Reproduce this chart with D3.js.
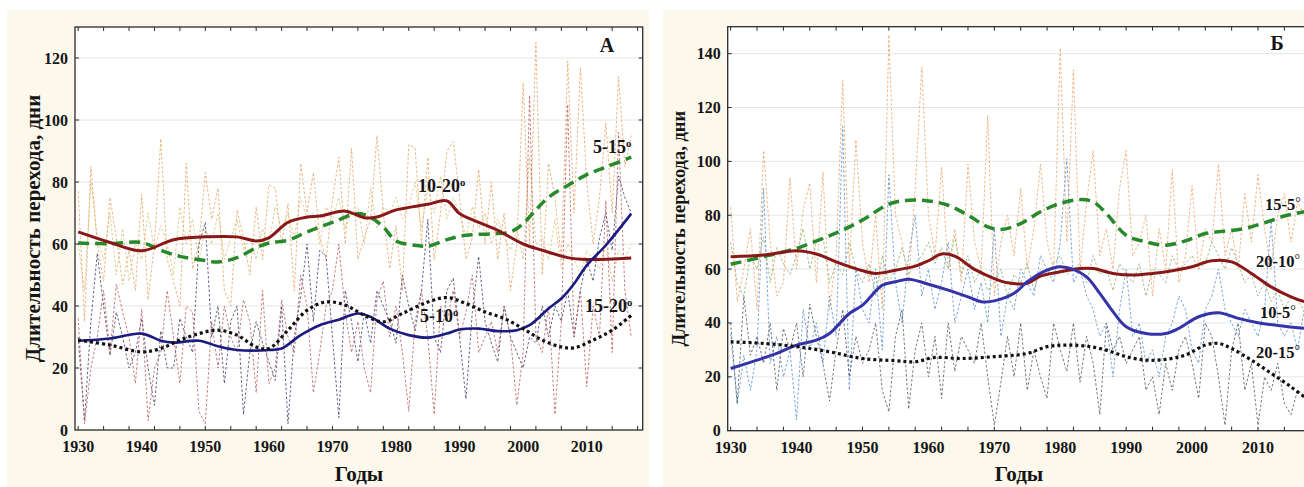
<!DOCTYPE html>
<html>
<head>
<meta charset="utf-8">
<script src="https://cdn.jsdelivr.net/npm/d3@7"></script>
<style>
  body { margin: 0; background: #fff; }
  svg { display: block; }
  text { font-family: "Liberation Serif", "Times New Roman", serif; font-weight: bold; fill: #151515; }
</style>
</head>
<body>
<div id="chart"></div>
<script>
// years of observation, one value per year
var years = d3.range(1930, 2018);

// ---- panel A, yearly values (days) ----
var rawA_5_15 = [77,35,85,60,48,75,62,47,58,45, 76,42,60,94,55,48,40,86,52,60,
  83,68,78,45,40,71,62,50,72,55, 79,78,60,73,45,86,70,83,62,55,
  74,88,60,91,55,62,68,95,70,52, 66,45,92,91,60,88,55,70,90,93,
  75,55,62,84,60,80,55,70,45,60, 112,60,125,50,86,75,55,119,70,117,
  80,60,75,99,70,114,85,95];
var rawA_10_20 = [60,45,80,62,55,70,50,65,48,60, 55,70,58,66,60,50,72,60,68,55,
  65,60,70,55,62,68,58,62,55,65, 60,72,65,70,62,75,68,70,60,72,
  68,75,65,70,72,60,78,65,72,70, 75,68,72,80,65,78,70,82,68,75,
  70,62,72,65,70,60,68,62,58,65, 55,88,60,62,55,68,52,60,55,50,
  58,55,52,60,48,58,55,60];
var rawA_5_10 = [30,3,35,57,40,24,38,30,20,25, 36,20,8,32,20,20,36,30,25,60,
  67,30,40,15,35,40,5,25,35,28, 22,16,40,2,30,43,60,35,58,56,
  30,4,45,35,22,38,28,45,40,35, 28,50,40,32,45,68,30,25,45,49,
  30,10,38,56,35,28,22,40,30,25, 20,30,28,40,30,40,35,45,30,45,
  55,48,62,70,58,82,75,70];
var rawA_15_20 = [36,2,20,30,45,25,47,38,30,15, 39,3,20,25,45,30,15,40,38,6,
  2,35,20,40,30,25,42,35,12,45, 15,20,42,30,25,50,40,12,25,40,
  45,60,38,25,35,20,12,42,48,30, 40,25,6,35,45,30,5,40,35,45,
  30,38,50,25,30,35,25,40,30,8, 25,108,30,25,40,5,35,105,30,45,
  14,40,30,74,25,96,45,30];

// ---- panel A, smoothed curves [year, days] ----
var smoothA_10_20 = [[1930,63.9],[1935,60.5],[1940,57.8],[1945,61.4],[1950,62.3],[1955,62.3],[1958,61],
  [1960,62],[1963,67],[1966,68.7],[1968,69],[1972,70.6],[1975,68.5],[1977,68.7],[1980,71],[1985,72.8],
  [1988,73.9],[1990,69.8],[1993,67],[1996,64.4],[2000,60],[2003,58],[2007,55.6],[2010,55],[2017,55.5]];
var smoothA_5_15 = [[1930,60.3],[1935,60.1],[1940,60.5],[1943,58],[1946,56],[1950,54.7],[1952,54.2],
  [1955,55.6],[1958,58.8],[1960,60.3],[1963,61.2],[1966,63.9],[1970,67],[1974,69.8],[1976,68.6],
  [1978,65.5],[1980,61],[1983,59.6],[1985,59.3],[1988,61.4],[1991,62.8],[1995,63.3],[1998,63.9],
  [2000,66.6],[2002,71],[2004,75.1],[2007,78.9],[2010,82.4],[2013,84.8],[2017,88]];
var smoothA_5_10 = [[1930,28.8],[1935,29.5],[1940,31.1],[1943,28.8],[1945,28.2],[1949,28.8],[1952,27],
  [1955,25.8],[1960,25.8],[1962,26.3],[1965,30.6],[1968,33.8],[1971,35.6],[1974,37.6],[1976,36.5],
  [1979,32.7],[1982,30.6],[1985,29.8],[1988,31.1],[1990,32.4],[1993,32.7],[1996,31.9],[1999,32.2],
  [2001,33.8],[2004,39.2],[2006,42.4],[2008,47.2],[2010,53.1],[2013,59.6],[2017,69.8]];
var smoothA_15_20 = [[1930,29],[1935,27.4],[1940,25.2],[1943,26.3],[1946,29],[1949,31.1],[1952,32.2],
  [1955,30.6],[1958,26.8],[1960,26.3],[1963,32.2],[1966,38.6],[1969,41.3],[1972,40.3],[1975,37],
  [1978,34.9],[1981,37.6],[1985,41.3],[1988,42.7],[1991,40.8],[1994,38.1],[1997,36],[2000,32.7],
  [2003,29],[2006,26.8],[2008,26.5],[2011,29],[2014,32.2],[2017,37]];

// ---- panel Б, yearly values (days) ----
var rawB_15_5 = [83,48,60,75,45,104,70,50,55,94, 60,82,92,55,96,45,65,130,60,108,
  70,55,80,45,147,80,70,55,90,135, 80,65,98,60,75,55,99,70,60,117,
  50,70,80,65,90,60,75,99,70,60, 142,70,134,60,85,104,65,75,60,90,
  104,65,70,80,50,75,60,97,55,65, 91,60,75,70,99,65,75,60,88,70,
  95,75,60,80,88,70,85,80];
var rawB_20_10 = [70,55,50,65,60,72,55,68,62,58, 65,75,60,70,72,55,62,58,70,60,
  55,62,50,65,55,60,68,58,62,65, 70,62,68,60,72,58,65,55,60,52,
  55,60,50,58,55,62,52,60,58,62, 65,58,60,62,55,65,58,60,52,62,
  58,55,62,50,60,58,55,65,60,62, 65,60,62,70,65,60,68,62,55,58,
  50,55,48,52,45,50,48,45];
var rawB_10_5 = [36,10,28,15,30,90,25,35,20,30, 4,45,30,40,25,50,35,113,15,60,
  45,40,60,30,95,55,40,65,80,50, 60,45,55,70,40,50,60,45,55,40,
  75,35,50,45,60,55,50,65,60,55, 70,101,55,60,50,45,35,40,20,45,
  60,35,40,25,30,20,35,40,50,45, 30,25,45,50,60,45,40,35,45,40,
  35,45,78,40,35,40,30,45];
var rawB_20_15 = [40,10,50,28,35,25,40,15,38,30, 40,20,47,35,25,11,30,45,20,35,
  25,30,40,15,7,35,45,8,30,40, 20,35,12,40,22,35,30,25,40,20,
  2,18,35,20,40,15,30,20,12,40, 30,22,40,18,35,25,6,40,30,35,
  25,30,35,15,20,6,25,15,30,35, 25,12,40,35,20,2,30,40,15,25,
  2,20,15,25,10,6,15,12];

// ---- panel Б, smoothed curves [year, days] ----
var smoothB_15_5 = [[1930,61.8],[1935,64.6],[1940,67.7],[1944,71.4],[1947,74.5],[1950,78.2],[1954,84.1],
  [1957,85.6],[1960,85.3],[1963,83.7],[1966,80],[1969,75.7],[1971,74.7],[1974,76.9],[1977,81.3],
  [1980,84.4],[1983,85.8],[1985,85],[1987,80.6],[1990,72.6],[1993,70.1],[1996,68.9],[1999,70.5],
  [2002,73.2],[2005,74.1],[2008,75.1],[2011,77.2],[2014,79.7],[2017,81.3]];
var smoothB_20_10 = [[1930,64.6],[1935,65.2],[1940,66.8],[1943,65.6],[1946,62.7],[1950,59.4],[1952,58.4],
  [1955,59.6],[1958,61.1],[1960,63.1],[1962,65.6],[1964,64.8],[1967,59.9],[1970,56.5],[1972,54.9],
  [1975,54.7],[1977,57.4],[1980,59],[1983,60.2],[1985,60.2],[1988,58.4],[1991,57.8],[1994,58.4],
  [1997,59.4],[2000,60.9],[2003,63.1],[2006,62.7],[2009,58.4],[2012,53.4],[2015,49.7],[2017,47.9]];
var smoothB_10_5 = [[1930,23.1],[1934,26.2],[1937,28.7],[1940,31.8],[1943,33.6],[1945,36.1],[1948,43.5],
  [1950,46.6],[1953,54],[1955,55.3],[1957,56.2],[1960,54.4],[1963,52.2],[1966,49.7],[1968,47.9],
  [1970,48.2],[1973,51],[1975,55.3],[1978,59.6],[1980,60.9],[1982,59.9],[1984,57.1],[1986,51],
  [1988,44.2],[1990,38.6],[1993,36.1],[1996,36.1],[1998,38],[2001,42.3],[2004,43.8],[2007,41.7],
  [2010,40.1],[2014,38.8],[2017,38]];
var smoothB_20_15 = [[1930,33],[1935,32.4],[1940,31.2],[1945,29.3],[1950,26.8],[1955,26],[1958,25.6],
  [1961,27.2],[1965,26.8],[1970,27.5],[1975,28.7],[1978,31.2],[1981,31.8],[1984,31.4],[1987,29.9],
  [1990,27.5],[1993,26.2],[1996,26.5],[1999,28.1],[2002,31.8],[2004,32.4],[2006,30.5],[2009,26.2],
  [2012,21.3],[2015,16.3],[2017,12.6]];

var yTicksA = [0, 20, 40, 60, 80, 100, 120];
var yTicksB = [0, 20, 40, 60, 80, 100, 120, 140];
var xTickLabels = [1930, 1940, 1950, 1960, 1970, 1980, 1990, 2000, 2010];

var svg = d3.select("#chart").append("svg")
    .attr("width", 1304)
    .attr("height", 487);

function drawPanel(p) {
  var g = svg.append("g");

  // cream card
  g.append("rect")
    .attr("x", p.bg[0]).attr("y", p.bg[1])
    .attr("width", p.bg[2]).attr("height", p.bg[3])
    .attr("fill", "#fcf8eb");

  var x = d3.scaleLinear().domain(p.xDomain).range([p.left, p.right]);
  var y = d3.scaleLinear().domain([0, p.yMax]).range([p.bottom, p.top]);

  g.append("rect")
    .attr("x", p.left).attr("y", p.top)
    .attr("width", p.right - p.left).attr("height", p.bottom - p.top)
    .attr("fill", "#fff");

  // grid
  g.selectAll(".grid")
    .data(p.yTicks.slice(1))
    .join("line")
    .attr("x1", p.left).attr("x2", p.right)
    .attr("y1", d => y(d)).attr("y2", d => y(d))
    .attr("stroke", "#e6e6e6").attr("stroke-width", 1);

  g.append("clipPath").attr("id", "clip" + p.id)
    .append("rect")
    .attr("x", p.left).attr("y", p.top)
    .attr("width", p.right - p.left).attr("height", p.bottom - p.top);

  var plot = g.append("g").attr("clip-path", "url(#clip" + p.id + ")");

  var rawLine = d3.line()
    .x((d, i) => x(years[i]))
    .y(d => y(d));

  p.raw.forEach(function(s) {
    plot.append("path")
      .attr("d", rawLine(s.values))
      .attr("fill", "none")
      .attr("stroke", s.color)
      .attr("stroke-width", 1)
      .attr("stroke-opacity", 0.8)
      .attr("stroke-dasharray", "2.5,2");
  });

  var smoothLine = d3.line()
    .x(d => x(d[0]))
    .y(d => y(d[1]))
    .curve(d3.curveCatmullRom.alpha(0.5));

  p.smooth.forEach(function(s) {
    plot.append("path")
      .attr("d", smoothLine(s.values))
      .attr("fill", "none")
      .attr("stroke", s.color)
      .attr("stroke-width", s.width)
      .attr("stroke-dasharray", s.dash || null);
  });

  // frame
  g.append("rect")
    .attr("x", p.left).attr("y", p.top)
    .attr("width", p.right - p.left).attr("height", p.bottom - p.top)
    .attr("fill", "none").attr("stroke", "#2a2a2a").attr("stroke-width", 1.3);

  // small ticks
  var minor = d3.range(1930, 2019, 4);
  [p.top, p.bottom].forEach(function(yy, k) {
    g.append("g").selectAll("line")
      .data(minor.filter(d => x(d) < p.right))
      .join("line")
      .attr("x1", d => x(d)).attr("x2", d => x(d))
      .attr("y1", yy).attr("y2", k ? yy - 4 : yy + 4)
      .attr("stroke", "#2a2a2a");
  });
  [p.left, p.right].forEach(function(xx, k) {
    g.append("g").selectAll("line")
      .data(p.yTicks.slice(1))
      .join("line")
      .attr("x1", xx).attr("x2", k ? xx - 4 : xx + 4)
      .attr("y1", d => y(d)).attr("y2", d => y(d))
      .attr("stroke", "#2a2a2a");
  });

  // tick labels
  g.append("g").selectAll("text")
    .data(p.yTicks)
    .join("text")
    .attr("x", p.left - 7)
    .attr("y", d => y(d) + 5.5)
    .attr("text-anchor", "end")
    .attr("font-size", 16)
    .text(d => d);

  g.append("g").selectAll("text")
    .data(xTickLabels)
    .join("text")
    .attr("x", d => x(d))
    .attr("y", p.bottom + 22)
    .attr("text-anchor", "middle")
    .attr("font-size", 16)
    .text(d => d);

  // axis titles
  g.append("text")
    .attr("transform", "translate(" + p.yTitleX + "," + ((p.top + p.bottom) / 2) + ") rotate(-90)")
    .attr("text-anchor", "middle")
    .attr("dominant-baseline", "central")
    .attr("font-size", p.yTitleSize)
    .text("Длительность перехода, дни");

  g.append("text")
    .attr("x", p.xTitleX)
    .attr("y", 481)
    .attr("text-anchor", "middle")
    .attr("font-size", 21)
    .text("Годы");

  // panel letter
  g.append("text")
    .attr("x", p.letter[1]).attr("y", p.letter[2])
    .attr("text-anchor", "middle")
    .attr("font-size", 20)
    .text(p.letter[0]);

  // curve labels
  p.labels.forEach(function(l) {
    var t = g.append("text")
      .attr("x", l.x).attr("y", l.y)
      .attr("font-size", p.labelSize);
    t.append("tspan").text(l.text);
    if (p.ring) {
      t.append("tspan")
        .attr("dy", -3)
        .attr("font-size", p.labelSize * 0.85)
        .attr("font-weight", "normal")
        .text("°");
    } else {
      t.append("tspan")
        .attr("baseline-shift", "super")
        .attr("font-size", p.labelSize * 0.6)
        .text("o");
    }
  });
}

drawPanel({
  id: "A",
  bg: [7, 10, 642, 477],
  left: 75, right: 642.7, top: 27, bottom: 430,
  xDomain: [1929.5, 2018.8], yMax: 130, yTicks: yTicksA,
  yTitleX: 33, yTitleSize: 21, xTitleX: 359,
  letter: ["А", 607, 52],
  labelSize: 18, ring: false,
  raw: [
    {values: rawA_10_20, color: "#d8c27c"},
    {values: rawA_5_15, color: "#e7a160"},
    {values: rawA_5_10, color: "#3f3f68"},
    {values: rawA_15_20, color: "#b85c5c"}
  ],
  smooth: [
    {values: smoothA_5_15, color: "#26892a", width: 3.5, dash: "11,6"},
    {values: smoothA_10_20, color: "#8a1717", width: 3},
    {values: smoothA_5_10, color: "#1b1b80", width: 2.6},
    {values: smoothA_15_20, color: "#111", width: 3.2, dash: "3,3"}
  ],
  labels: [
    {text: "5-15", x: 593, y: 153},
    {text: "10-20", x: 418, y: 192},
    {text: "5-10", x: 420, y: 322},
    {text: "15-20", x: 585, y: 312}
  ]
});

drawPanel({
  id: "B",
  bg: [663, 10, 641, 477],
  left: 727.7, right: 1316, top: 26.7, bottom: 430.7,
  xDomain: [1929.55, 2018.8], yMax: 150, yTicks: yTicksB,
  yTitleX: 679, yTitleSize: 18.5, xTitleX: 1019,
  letter: ["Б", 1277, 50],
  labelSize: 16.5, ring: true,
  raw: [
    {values: rawB_20_10, color: "#86b070"},
    {values: rawB_15_5, color: "#eea366"},
    {values: rawB_10_5, color: "#5a8ed0"},
    {values: rawB_20_15, color: "#505660"}
  ],
  smooth: [
    {values: smoothB_15_5, color: "#26892a", width: 3.5, dash: "11,6"},
    {values: smoothB_20_10, color: "#8a1717", width: 3},
    {values: smoothB_10_5, color: "#3434a8", width: 3},
    {values: smoothB_20_15, color: "#111", width: 3.2, dash: "3,3"}
  ],
  labels: [
    {text: "15-5", x: 1265, y: 210},
    {text: "20-10", x: 1256, y: 267},
    {text: "10-5", x: 1260, y: 318},
    {text: "20-15", x: 1256, y: 358}
  ]
});
</script>
</body>
</html>
